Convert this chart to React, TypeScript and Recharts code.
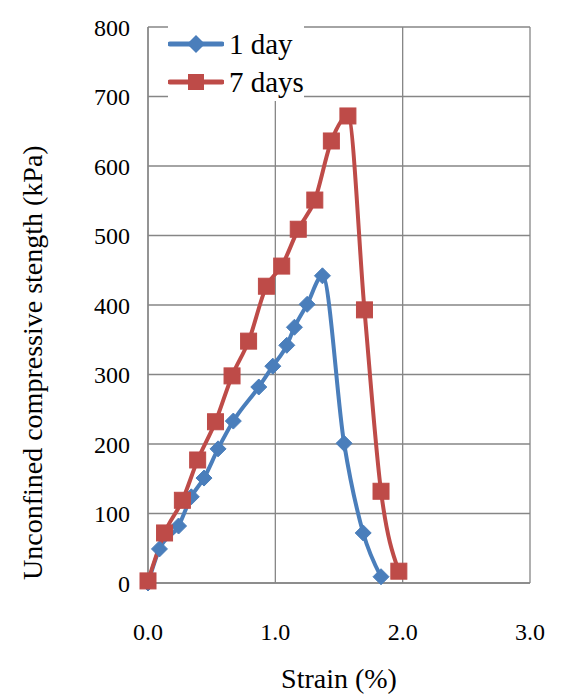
import React from "react";
import {
  LineChart,
  Line,
  XAxis,
  YAxis,
  CartesianGrid,
} from "recharts";

const oneDayStrain = [0, 0.09, 0.24, 0.34, 0.44, 0.55, 0.67, 0.87, 0.98, 1.09, 1.15, 1.25, 1.37, 1.54, 1.69, 1.83];
const oneDayStrength = [0, 49, 82, 124, 151, 193, 233, 282, 312, 342, 368, 401, 442, 201, 72, 9];
const sevenDayStrain = [0, 0.13, 0.27, 0.39, 0.53, 0.66, 0.79, 0.93, 1.05, 1.18, 1.31, 1.44, 1.57, 1.7, 1.83, 1.97];
const sevenDayStrength = [3, 72, 119, 177, 232, 298, 348, 427, 456, 509, 551, 636, 672, 393, 132, 17];

const xTicks = [0, 1, 2, 3];
const yTicks = [0, 100, 200, 300, 400, 500, 600, 700, 800];

const oneDay = oneDayStrain.map((x, i) => ({ x, y: oneDayStrength[i] }));
const sevenDays = sevenDayStrain.map((x, i) => ({ x, y: sevenDayStrength[i] }));

const FONT = "Liberation Serif, DejaVu Serif, serif";
const BLUE = "#4a7ebb";
const RED = "#be4b48";

const Diamond = (props: any) => {
  const { cx, cy } = props;
  if (cx == null || cy == null) return null;
  return (
    <path
      d={`M${cx},${cy - 8} L${cx + 8},${cy} L${cx},${cy + 8} L${cx - 8},${cy} Z`}
      fill={BLUE}
      stroke={BLUE}
    />
  );
};

const Square = (props: any) => {
  const { cx, cy } = props;
  if (cx == null || cy == null) return null;
  return <rect x={cx - 8} y={cy - 8} width={16} height={16} fill={RED} stroke={RED} />;
};

const legendItems = [
  { n: "1 day", c: BLUE, m: "d" },
  { n: "7 days", c: RED, m: "s" },
];

export default function App() {
  return (
    <div style={{ position: "absolute", left: 0, top: 0, width: 568, height: 694, background: "#fff", fontFamily: FONT }}>
      <LineChart
        width={568}
        height={694}
        margin={{ top: 27, right: 38, bottom: 0, left: 40 }}
        style={{ fontFamily: FONT }}
      >
        <CartesianGrid stroke="#868686" strokeWidth={1.3} horizontal vertical />
        <XAxis
          type="number"
          dataKey="x"
          domain={[0, 3]}
          ticks={xTicks}
          tickFormatter={(v: number) => v.toFixed(1)}
          tick={{ fill: "#000", fontSize: 24, fontFamily: FONT }}
          tickLine={false}
          axisLine={{ stroke: "#868686", strokeWidth: 1.3 }}
          tickMargin={34}
          height={111}
          label={{ value: "Strain (%)", position: "insideBottom", offset: 6, fill: "#000", fontSize: 28, fontFamily: FONT }}
        />
        <YAxis
          type="number"
          domain={[0, 800]}
          ticks={yTicks}
          tick={{ fill: "#000", fontSize: 24, fontFamily: FONT }}
          tickLine={false}
          axisLine={{ stroke: "#868686", strokeWidth: 1.3 }}
          width={108}
          tickMargin={12}
          label={{ value: "Unconfined compressive stength (kPa)", angle: -90, position: "insideLeft", offset: -8, dy: 275, fill: "#000", fontSize: 28, fontFamily: FONT }}
        />
        <Line data={oneDay} dataKey="y" name="1 day" type="monotone" stroke={BLUE} strokeWidth={4} dot={<Diamond />} isAnimationActive={false} />
        <Line data={sevenDays} dataKey="y" name="7 days" type="monotone" stroke={RED} strokeWidth={4} dot={<Square />} isAnimationActive={false} />
      </LineChart>
      <div style={{ position: "absolute", left: 168, top: 25, fontSize: 29, fontFamily: FONT, background: "#fff" }}>
        {legendItems.map((e) => (
          <div key={e.n} style={{ display: "flex", alignItems: "center", height: 38, color: "#000" }}>
            <svg width={56} height={20}>
              <line x1={2} y1={10} x2={54} y2={10} stroke={e.c} strokeWidth={5} strokeLinecap="round" />
              {e.m === "d" ? (
                <path d="M28,1 L37,10 L28,19 L19,10 Z" fill={e.c} />
              ) : (
                <rect x={20} y={2} width={16} height={16} fill={e.c} />
              )}
            </svg>
            <span style={{ marginLeft: 5 }}>{e.n}</span>
          </div>
        ))}
      </div>
    </div>
  );
}
